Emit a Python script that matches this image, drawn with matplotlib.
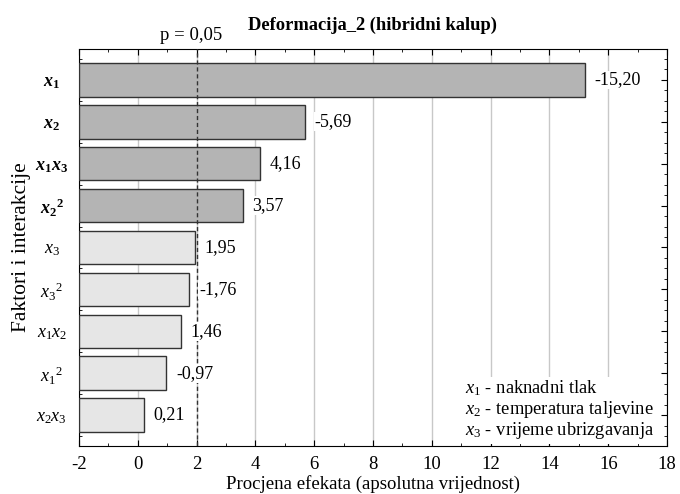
import matplotlib
matplotlib.use("Agg")
import matplotlib.pyplot as plt
from matplotlib.ticker import MultipleLocator

plt.rcParams['font.family'] = 'Liberation Serif'
plt.rcParams['mathtext.fontset'] = 'custom'
plt.rcParams['mathtext.rm'] = 'Liberation Serif'
plt.rcParams['mathtext.it'] = 'Liberation Serif:italic'
plt.rcParams['mathtext.bf'] = 'Liberation Serif:bold'
plt.rcParams['mathtext.bfit'] = 'Liberation Serif:italic:bold'
plt.rcParams['axes.unicode_minus'] = False

# factor labels (top to bottom) and standardized effects
factors = [r'$\mathbfit{x}_\mathbf{1}$', r'$\mathbfit{x}_\mathbf{2}$',
           r'$\mathbfit{x}_\mathbf{1}\mathbfit{x}_\mathbf{3}$', r'$\mathbfit{x}_\mathbf{2}{}^\mathbf{2}$',
           r'$x_3$', r'$x_3{}^2$', r'$x_1x_2$', r'$x_1{}^2$', r'$x_2x_3$']
effects = [-15.20, -5.69, 4.16, 3.57, 1.95, -1.76, 1.46, -0.97, 0.21]
effect_labels = ['-15,20', '-5,69', '4,16', '3,57', '1,95', '-1,76', '1,46', '-0,97', '0,21']
p_limit = 2.0
x_start = -2
legend_lines = [r'$x_1$ - naknadni tlak', r'$x_2$ - temperatura taljevine', r'$x_3$ - vrijeme ubrizgavanja']

fig = plt.figure(figsize=(6.8, 4.94), dpi=100)
ax = fig.add_axes([0.116, 0.097, 0.865, 0.804])

pos = list(range(len(factors)))
ends = [abs(e) for e in effects]
colors = ['#b4b4b4' if v > p_limit else '#e6e6e6' for v in ends]
ax.barh(pos, [v - x_start for v in ends], left=x_start, height=0.8, color=colors,
        edgecolor='#333333', linewidth=1.0, zorder=3)

for p, v, lab in zip(pos, ends, effect_labels):
    ax.annotate(lab, (v, p), xytext=(7, 0), textcoords='offset points',
                ha='left', va='center', fontsize=13, zorder=5,
                bbox=dict(boxstyle='square,pad=0.05', fc='white', ec='none'))

ax.axvline(p_limit, color='#333333', linestyle=(0, (3, 2)), linewidth=1.0, zorder=4)
ax.annotate('p = 0,05', (p_limit, 1), xycoords=('data', 'axes fraction'), xytext=(-4, 6.5),
            textcoords='offset points', ha='center', va='baseline', fontsize=13.5)

ax.set_xlim(-2, 18)
ax.set_ylim(8.74, -0.74)
ax.set_xticks(range(-2, 19, 2))
ax.xaxis.set_minor_locator(MultipleLocator(1))
ax.set_yticks(pos)
ax.set_yticklabels(factors, fontsize=13)
for t in ax.get_yticklabels():
    t.set_horizontalalignment('center')
ax.yaxis.set_minor_locator(MultipleLocator(0.25))
ax.tick_params(axis='x', labelsize=13.5, pad=7)
ax.tick_params(axis='y', pad=19.5)
ax.tick_params(which='both', direction='in', top=True, right=True)
ax.tick_params(which='major', length=4)
ax.tick_params(which='minor', length=2)
ax.grid(axis='x', color='#c8c8c8', linewidth=1.0, zorder=0)
ax.set_axisbelow(True)

ax.set_title('Deformacija_2 (hibridni kalup)', fontsize=13.3, fontweight='bold', pad=14)
ax.set_xlabel('Procjena efekata (apsolutna vrijednost)', fontsize=13.5, labelpad=1.5)
ax.set_ylabel('Faktori i interakcije', fontsize=15.5, labelpad=3)

ax.text(0.978, 0.012, '\n'.join(legend_lines), transform=ax.transAxes, ha='right', va='bottom',
        multialignment='left', fontsize=13.3, linespacing=1.05, zorder=6,
        bbox=dict(boxstyle='square,pad=0.15', fc='white', ec='none'))

fig.savefig('out.png', dpi=100)
